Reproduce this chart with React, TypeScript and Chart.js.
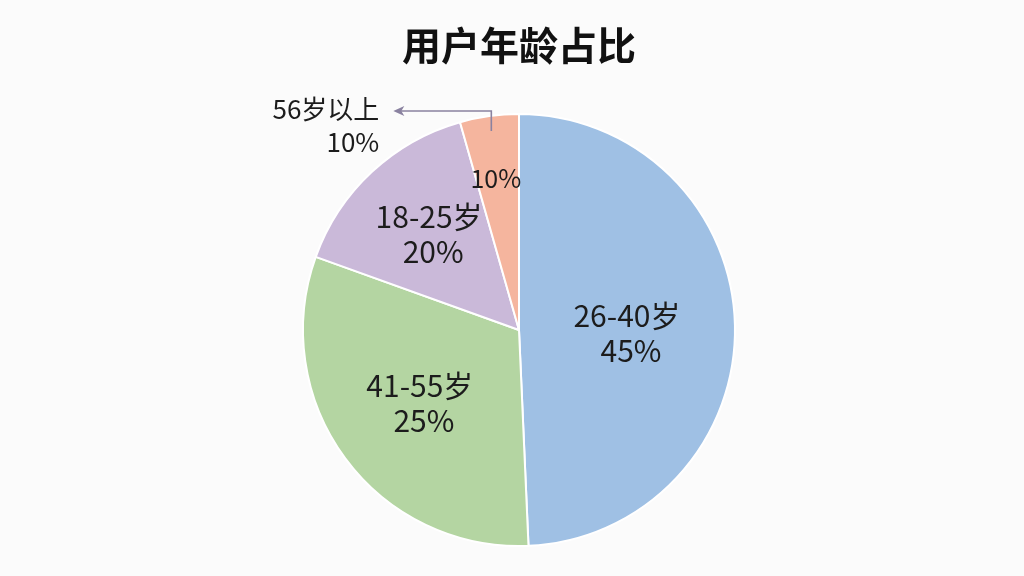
import React, { useEffect, useRef } from "react";
import { Chart, registerables } from "chart.js";

Chart.register(...registerables);

const title = "用户年龄占比";
const categories = ["26-40岁", "41-55岁", "18-25岁", "56岁以上"];
// slice sizes as drawn in the picture
const sliceValues = [49.3, 31.2, 15.1, 4.4];
// percentage text printed on the picture
const percentLabels = ["45%", "25%", "20%", "10%"];
const colors = ["#9fc0e4", "#b4d5a2", "#cab9d9", "#f5b59e"];

const FONT = "'Noto Sans CJK SC', 'Noto Sans', sans-serif";

const labelPlugin = {
  id: "sliceLabels",
  afterDatasetsDraw(chart: any) {
    const ctx = chart.ctx;
    const meta = chart.getDatasetMeta(0);
    const fractions = [0.5, 0.57, 0.61, 0.71];
    const shiftY = [5, 0, 0, 0];
    ctx.save();
    ctx.fillStyle = "#1c1c1c";
    ctx.textAlign = "center";
    ctx.textBaseline = "middle";
    meta.data.forEach((arc: any, i: number) => {
      const { x, y, startAngle, endAngle, outerRadius } = arc.getProps(
        ["x", "y", "startAngle", "endAngle", "outerRadius"],
        true
      );
      const mid = (startAngle + endAngle) / 2;
      const r = outerRadius * fractions[i];
      const cx = x + Math.cos(mid) * r;
      const cy = y + Math.sin(mid) * r + shiftY[i];
      if (i < 3) {
        ctx.font = `30px ${FONT}`;
        ctx.fillText(categories[i], cx, cy - 17.5);
        ctx.fillText(percentLabels[i], cx + 4, cy + 17.5);
      } else {
        ctx.font = `25px ${FONT}`;
        ctx.fillText(percentLabels[i], cx - 2, cy);
        // outside callout with arrow
        const sx = x + Math.cos(mid) * outerRadius * 0.93;
        const sy = y + Math.sin(mid) * outerRadius * 0.93;
        const topY = y - outerRadius - 3;
        const ex = sx - 98;
        ctx.strokeStyle = "#8a82a0";
        ctx.lineWidth = 1.6;
        ctx.beginPath();
        ctx.moveTo(sx, sy);
        ctx.lineTo(sx, topY);
        ctx.lineTo(ex + 6, topY);
        ctx.stroke();
        ctx.fillStyle = "#8a82a0";
        ctx.beginPath();
        ctx.moveTo(ex, topY);
        ctx.lineTo(ex + 11, topY - 5);
        ctx.lineTo(ex + 8, topY);
        ctx.lineTo(ex + 11, topY + 5);
        ctx.closePath();
        ctx.fill();
        ctx.fillStyle = "#1c1c1c";
        ctx.textAlign = "right";
        ctx.font = `26px ${FONT}`;
        ctx.fillText(categories[i], ex - 14, topY - 2);
        ctx.fillText(percentLabels[i], ex - 14, topY + 31);
      }
    });
    // title
    ctx.textAlign = "center";
    ctx.font = `bold 39px ${FONT}`;
    ctx.fillStyle = "#111111";
    ctx.fillText(title, meta.data[0].x, 45);
    ctx.restore();
  },
};

export default function App() {
  const ref = useRef<HTMLCanvasElement | null>(null);
  useEffect(() => {
    if (!ref.current) return;
    const chart = new Chart(ref.current, {
      type: "pie",
      data: {
        labels: categories,
        datasets: [
          {
            data: sliceValues,
            backgroundColor: colors,
            borderColor: "#ffffff",
            borderWidth: 2,
          },
        ],
      },
      options: {
        responsive: false,
        animation: false,
        layout: { padding: { top: 113, bottom: 29, left: 14, right: 0 } },
        plugins: {
          legend: { display: false },
          tooltip: { enabled: false },
          title: { display: false },
        },
      },
      plugins: [labelPlugin],
    });
    return () => chart.destroy();
  }, []);
  return (
    <div
      style={{
        position: "fixed",
        left: 0,
        top: 0,
        width: 1024,
        height: 576,
        background: "#fbfbfb",
      }}
    >
      <canvas ref={ref} width={1024} height={576} />
    </div>
  );
}
